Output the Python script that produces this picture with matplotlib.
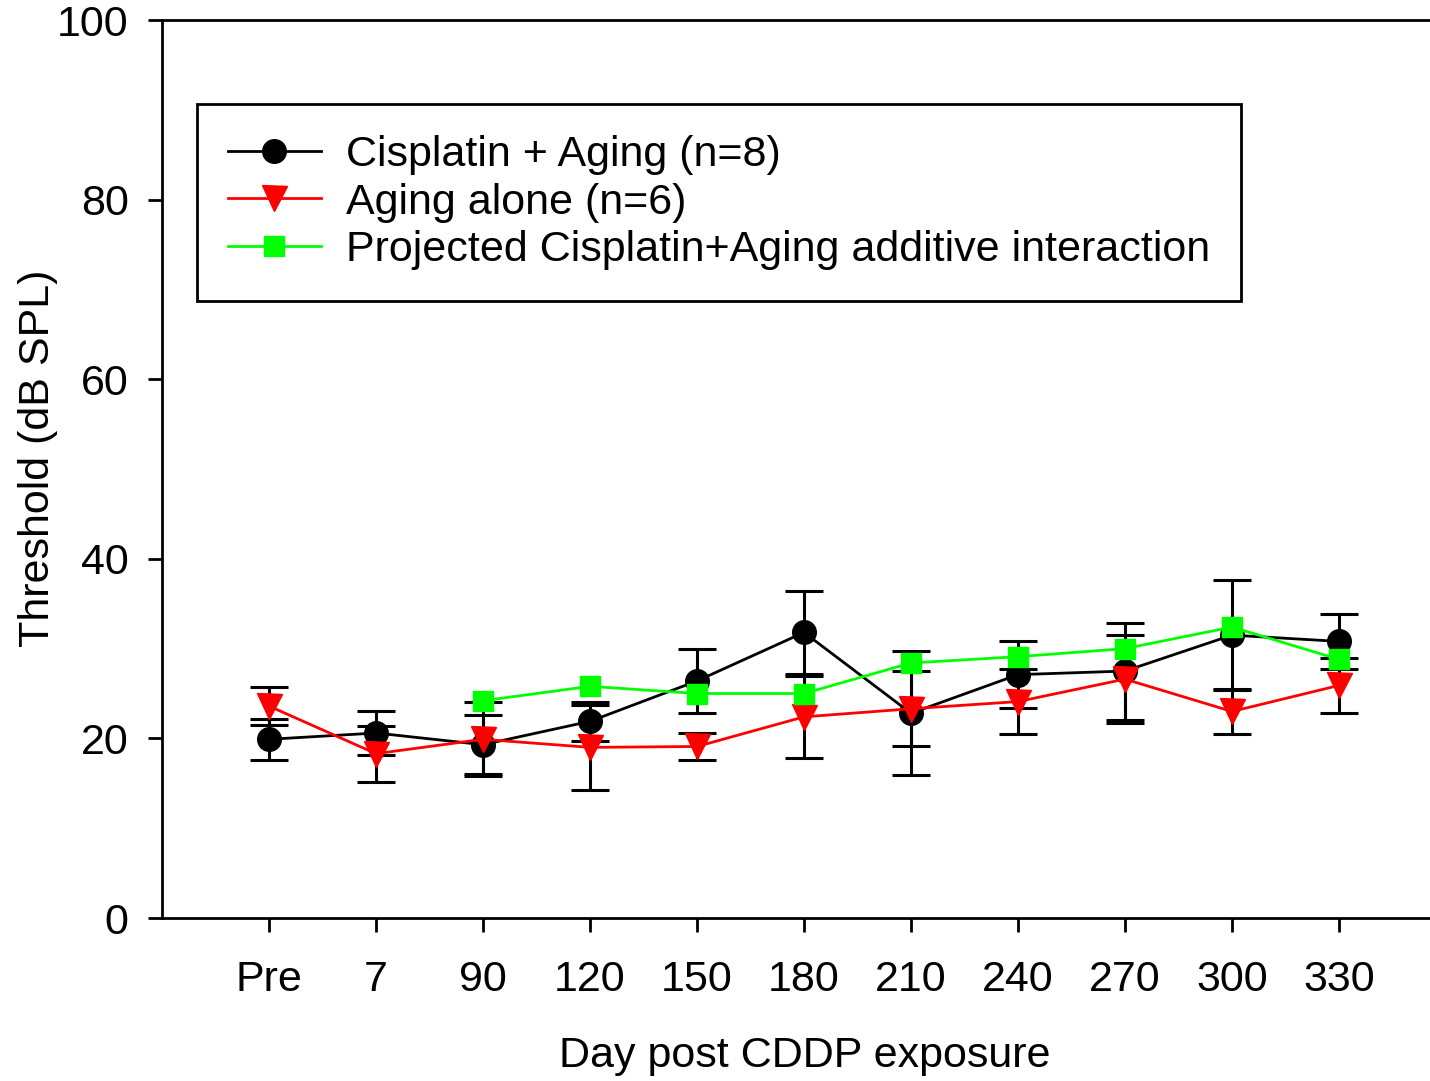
import numpy as np
import matplotlib
matplotlib.use("Agg")
import matplotlib.pyplot as plt

plt.rcParams['font.family'] = ['Liberation Sans', 'DejaVu Sans']

# Data
days = ["Pre", "7", "90", "120", "150", "180", "210", "240", "270", "300", "330"]

cis_mean = [19.9, 20.6, 19.3, 21.9, 26.4, 31.8, 22.8, 27.1, 27.5, 31.5, 30.8]
cis_err = [2.3, 2.4, 3.3, 2.2, 3.6, 4.6, 6.9, 3.7, 5.4, 6.1, 3.1]

age_mean = [23.6, 18.3, 19.9, 19.0, 19.1, 22.4, 23.3, 24.1, 26.6, 23.0, 25.9]
age_err = [2.1, 3.1, 4.1, 4.7, 1.5, 4.6, 4.2, 3.6, 4.9, 2.5, 3.1]

proj_days = ["90", "120", "150", "180", "210", "240", "270", "300", "330"]
proj_mean = [24.2, 25.8, 25.0, 25.0, 28.4, 29.1, 30.0, 32.4, 28.8]

x = np.arange(len(days))
xp = np.array([days.index(d) for d in proj_days])

fs = 31

fig = plt.figure(figsize=(14.3, 10.81), dpi=100)
ax = fig.add_axes([162/1430, 1-918/1081, 1-162/1430, (918-20)/1081])

ekw = dict(fmt='none', ecolor='black', elinewidth=2.2, capsize=14, capthick=2.2, zorder=2)
ax.errorbar(x, cis_mean, yerr=cis_err, **ekw)
ax.errorbar(x, age_mean, yerr=age_err, **ekw)

ax.plot(x, cis_mean, color='black', lw=2, marker='o', ms=17, mfc='black', mec='black',
        zorder=3, label='Cisplatin + Aging (n=8)')
ax.plot(x, age_mean, color='#ff0000', lw=2, marker='v', ms=18, mfc='#ff0000', mec='#ff0000',
        zorder=3, label='Aging alone (n=6)')
ax.plot(xp, proj_mean, color='#00ff00', lw=2, marker='s', ms=15, mfc='#00ff00', mec='#00ff00',
        zorder=3, label='Projected Cisplatin+Aging additive interaction')

ax.set_xlim(-1, (1430-269)/107)
ax.set_ylim(0, 100)
ax.set_xticks(x)
ax.set_xticklabels(days)
ax.set_yticks([0, 20, 40, 60, 80, 100])
ax.tick_params(axis='both', direction='out', length=10, width=2, labelsize=fs, colors='black')
ax.tick_params(axis='x', pad=20)
ax.tick_params(axis='y', pad=14)
for s in ['left', 'bottom', 'top']:
    ax.spines[s].set_linewidth(2)
ax.spines['right'].set_visible(False)

fig.text(805/1430, 1-1056/1081, 'Day post CDDP exposure', fontsize=fs,
         ha='center', va='center')
fig.text(38/1430, 1-458/1081, 'Threshold (dB SPL)', fontsize=fs, rotation=90,
         ha='center', va='center')

leg = ax.legend(loc='upper left', bbox_to_anchor=(197/1430, 1-104/1081),
                bbox_transform=fig.transFigure, fontsize=fs, frameon=True, fancybox=False,
                framealpha=1, borderaxespad=0, handlelength=2.15, handletextpad=0.58,
                borderpad=0.72, labelspacing=0.175)
leg.get_frame().set_edgecolor('black')
leg.get_frame().set_linewidth(2)

fig.savefig('out.png', dpi=100)
